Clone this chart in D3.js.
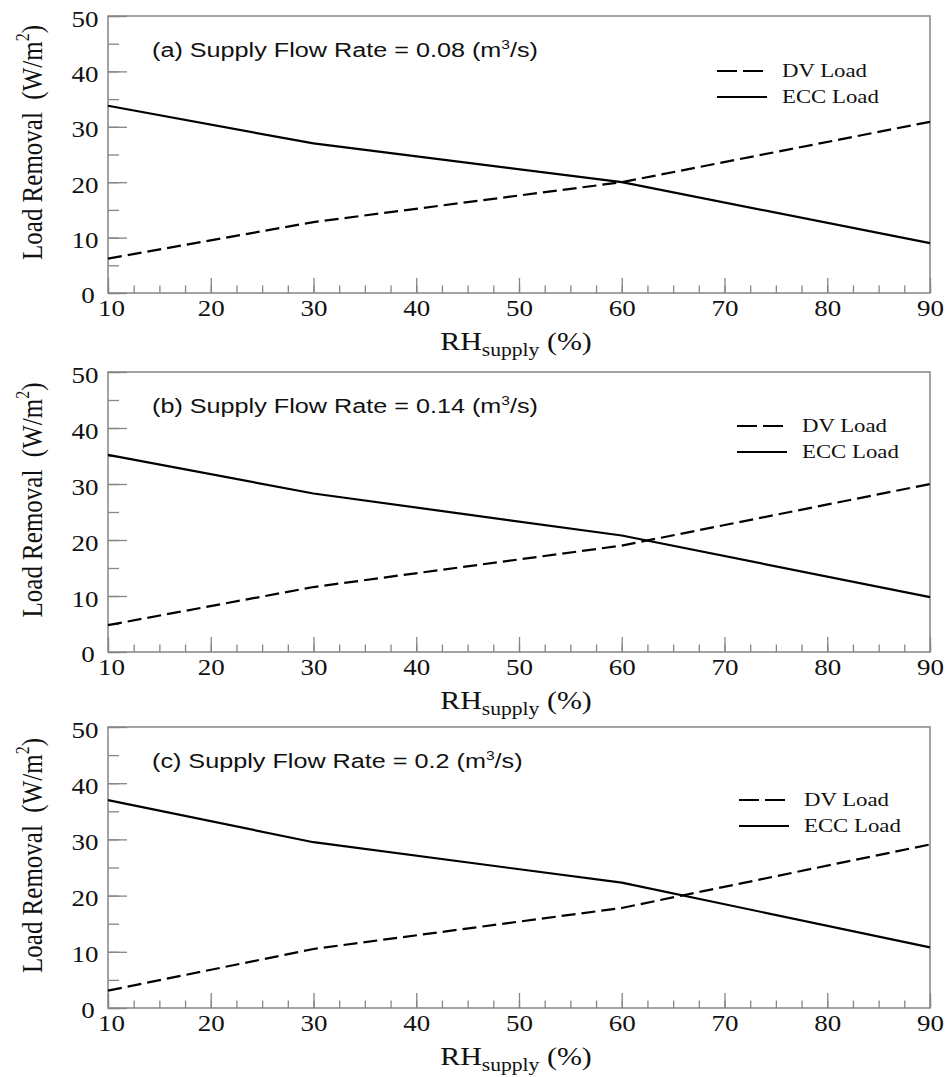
<!DOCTYPE html>
<html>
<head>
<meta charset="utf-8">
<script src="https://d3js.org/d3.v7.min.js"></script>
<style>
  body { margin: 0; background: #fff; }
  svg { display: block; }
  .serif { font-family: "Liberation Serif", "Times New Roman", serif; fill: #111; }
  .sans { font-family: "Liberation Sans", Arial, sans-serif; fill: #111; }
  .axis path { display: none; }
  .axis line { stroke: #858585; stroke-width: 1.3; }
</style>
</head>
<body>
<svg width="950" height="1077"></svg>
<script>
// values
const rh = [10, 30, 60, 90];
const dvA = [6.2, 12.8, 20.0, 30.9];
const eccA = [33.8, 27.0, 20.0, 9.0];
const dvB = [4.8, 11.6, 19.0, 30.0];
const eccB = [35.2, 28.3, 20.8, 9.8];
const dvC = [3.1, 10.5, 17.8, 29.1];
const eccC = [37.0, 29.5, 22.3, 10.8];

const letters = ["(a)", "(b)", "(c)"];
const flowRates = ["0.08", "0.14", "0.2"];
const seriesNames = ["DV Load", "ECC Load"];
const xTicks = [10, 20, 30, 40, 50, 60, 70, 80, 90];
const xMinor = d3.range(10, 90.01, 2.5);
const yTicks = [0, 10, 20, 30, 40, 50];
const yMinor = d3.range(0, 50.01, 5);

const panels = [
  { dv: dvA, ecc: eccA, top: 16, bottom: 293, legX: 717, legY: 71 },
  { dv: dvB, ecc: eccB, top: 372, bottom: 652, legX: 737, legY: 426 },
  { dv: dvC, ecc: eccC, top: 727, bottom: 1008, legX: 739, legY: 800 }
];

const svg = d3.select("svg");
const left = 108, right = 930;
const sx = 1.2; // the figure's text is stretched sideways

panels.forEach((p, i) => {
  const g = svg.append("g");
  const x = d3.scaleLinear().domain([10, 90]).range([left, right]);
  const y = d3.scaleLinear().domain([0, 50]).range([p.bottom, p.top]);

  // minor ticks
  g.append("g").attr("class", "axis")
    .attr("transform", `translate(0,${p.bottom})`)
    .call(d3.axisBottom(x).tickValues(xMinor).tickSize(-7.5).tickFormat(""));
  g.append("g").attr("class", "axis")
    .attr("transform", `translate(${left},0)`)
    .call(d3.axisLeft(y).tickValues(yMinor).tickSize(-11).tickFormat(""));

  // major ticks + labels
  const xa = g.append("g").attr("class", "axis serif")
    .attr("transform", `translate(0,${p.bottom})`)
    .call(d3.axisBottom(x).tickValues(xTicks).tickSize(-15).tickPadding(7));
  const ya = g.append("g").attr("class", "axis serif")
    .attr("transform", `translate(${left},0)`)
    .call(d3.axisLeft(y).tickValues(yTicks).tickSize(-19).tickPadding(8));
  [xa, ya].forEach(a => a.selectAll("text")
    .attr("font-size", 22.5)
    .attr("fill", "#111")
    .attr("font-family", "Liberation Serif")
    .attr("transform", `scale(${sx},1)`));
  ya.selectAll("text").attr("dy", "0.45em");
  // the 0 sits just left of the first x label
  ya.selectAll("text").filter(d => d === 0).attr("x", -11).attr("dy", "0.4em");
  xa.selectAll("text").filter(d => d === 10).attr("x", 2.5);

  // frame
  g.append("rect")
    .attr("x", left).attr("y", p.top)
    .attr("width", right - left).attr("height", p.bottom - p.top)
    .attr("fill", "none").attr("stroke", "#858585").attr("stroke-width", 1.5);

  // lines
  const line = d3.line().x((d, k) => x(rh[k])).y(d => y(d));
  g.append("path").datum(p.dv)
    .attr("d", line).attr("fill", "none")
    .attr("stroke", "#000").attr("stroke-width", 2.2)
    .attr("stroke-dasharray", "14,6");
  g.append("path").datum(p.ecc)
    .attr("d", line).attr("fill", "none")
    .attr("stroke", "#000").attr("stroke-width", 2.2);

  // panel title
  const t = g.append("text").attr("class", "sans")
    .attr("font-size", 21)
    .attr("transform", `translate(152,${p.top + 41}) scale(${sx},1)`);
  t.append("tspan").text(`${letters[i]} Supply Flow Rate = ${flowRates[i]} (m`);
  t.append("tspan").attr("font-size", 13).attr("dy", -8).text("3");
  t.append("tspan").attr("dy", 8).text("/s)");

  // legend
  const leg = g.append("g");
  [0, 1].forEach(k => {
    const ly = p.legY + k * 26;
    leg.append("line")
      .attr("x1", p.legX).attr("x2", p.legX + (k === 0 ? 46 : 50))
      .attr("y1", ly).attr("y2", ly)
      .attr("stroke", "#000").attr("stroke-width", 2.2)
      .attr("stroke-dasharray", k === 0 ? "20,6" : null);
    leg.append("text").attr("class", "serif")
      .attr("font-size", 19)
      .attr("transform", `translate(${p.legX + 65},${ly + 6}) scale(${sx},1)`)
      .text(seriesNames[k]);
  });

  // y axis title
  const yt = g.append("text").attr("class", "serif")
    .attr("font-size", 25)
    .attr("text-anchor", "middle")
    .style("white-space", "pre")
    .attr("transform", `translate(42,${(p.top + p.bottom) / 2 - 12}) scale(${sx},1) rotate(-90)`);
  yt.append("tspan").text("Load Removal  (W/m");
  yt.append("tspan").attr("font-size", 16).attr("dy", -11).text("2");
  yt.append("tspan").attr("dy", 11).text(")");

  // x axis title
  const xt = g.append("text").attr("class", "serif")
    .attr("font-size", 25)
    .attr("text-anchor", "middle")
    .attr("transform", `translate(516,${p.bottom + 57}) scale(${sx},1)`);
  xt.append("tspan").text("RH");
  xt.append("tspan").attr("font-size", 18).attr("dy", 6).text("supply");
  xt.append("tspan").attr("dy", -6).text(" (%)");
});
</script>
</body>
</html>
